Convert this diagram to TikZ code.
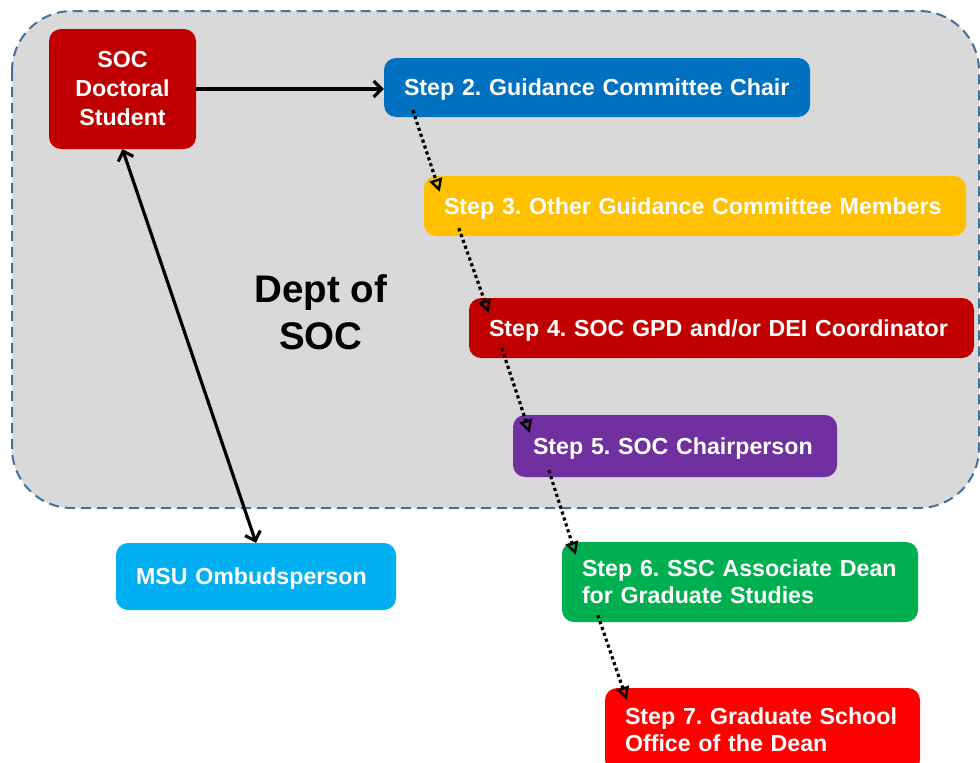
\documentclass[tikz,border=0pt]{standalone}
\usepackage{fontspec}
\setmainfont{Liberation Sans}
\usetikzlibrary{arrows.meta,calc}

\definecolor{socred}{HTML}{C00000}
\definecolor{chairblue}{HTML}{0070C0}
\definecolor{membgold}{HTML}{FFC000}
\definecolor{chairpurple}{HTML}{7030A0}
\definecolor{deangreen}{HTML}{00B050}
\definecolor{gradred}{HTML}{FF0000}
\definecolor{ombblue}{HTML}{00B0F0}
\definecolor{deptgray}{HTML}{D9D9D9}
\definecolor{deptedge}{HTML}{41719C}

\begin{document}
\frenchspacing
\hyphenpenalty=10000
\begin{tikzpicture}[x=1pt,y=-1pt,
    box/.style={rounded corners=12pt,inner xsep=20pt,inner ysep=0pt,align=left,text=white,
                font=\fontsize{23.2}{27}\selectfont\bfseries},
    oneline/.style={box,text depth=0pt},
    flow/.style={line width=3.2pt,dash pattern=on 3.2pt off 3pt,
                 -{Triangle[open,length=13pt,width=13pt,line width=2.4pt]}},
    link/.style={line width=3.2pt}
]
                % page and department region
                \clip (0,0) rectangle (980,763);
                \fill[white] (0,0) rectangle (980,763);
                \draw[fill=deptgray,draw=deptedge,line width=2pt,dash pattern=on 10pt off 6pt,rounded corners=60pt]
                    (12,11) rectangle (979,508);
                \node[font=\fontsize{38.5}{47}\selectfont\bfseries,align=center] (dept) at (321,312) {Dept of\\SOC};

                % boxes
                \node[box,fill=socred,align=center,inner xsep=0pt,text width=147pt,minimum height=120pt,
                      font=\fontsize{23.2}{29}\selectfont\bfseries] (stu) at (122.5,89) {SOC\\Doctoral\\Student};
                \node[oneline,fill=chairblue,text width=386pt,minimum height=59pt] (s2) at (597,87.5) {\mbox{Step 2. Guidance Committee Chair}};
                \node[oneline,fill=membgold,text width=502pt,minimum height=60pt] (s3) at (695,206) {\mbox{Step 3. Other Guidance Committee Members}};
                \node[oneline,fill=socred,text width=465pt,minimum height=60pt] (s4) at (721.5,328) {\mbox{Step 4. SOC GPD and/or DEI Coordinator}};
                \node[oneline,fill=chairpurple,text width=284pt,minimum height=62pt] (s5) at (675,446) {\mbox{Step 5. SOC Chairperson}};
                \node[box,fill=deangreen,text width=316pt,minimum height=80pt] (s6) at (740,582) {\mbox{Step 6. SSC Associate Dean}\\\mbox{for Graduate Studies}};
                \node[box,fill=gradred,text width=275pt,minimum height=84pt] (s7) at (762.5,730) {\mbox{Step 7. Graduate School}\\\mbox{Office of the Dean}};
                \node[oneline,fill=ombblue,text width=240pt,minimum height=67pt] (omb) at (256,576.5) {\mbox{MSU Ombudsperson}};

                % connectors
                \draw[link,-{Straight Barb[length=8pt,width=16pt]}] (stu.east) -- (stu.east -| s2.west);
                \draw[link,{Straight Barb[length=8pt,width=16pt]}-{Straight Barb[length=8pt,width=16pt]}] (stu.south) -- (omb.north);
                \foreach \a/\b/\sx/\sy/\ex/\ey in {s2/s3/29/-7/16/16, s3/s4/35/-8/20/15, s4/s5/33/-10/17/18,
                                                  s5/s6/36/-7/14/13, s6/s7/36/-7/22/12}
                    \draw[flow] ($(\a.south west)+(\sx,\sy)$) -- ($(\b.north west)+(\ex,\ey)$);
\end{tikzpicture}
\end{document}
